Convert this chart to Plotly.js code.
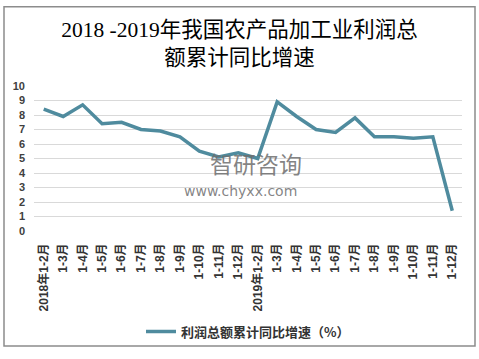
<!DOCTYPE html>
<html>
<head>
<meta charset="utf-8">
<script src="https://cdn.plot.ly/plotly-3.0.1.min.js"></script>
<style>
html,body{margin:0;padding:0;background:#fff;}
#chart{width:479px;height:359px;}
</style>
</head>
<body>
<div id="chart"></div>
<script>
var categories = ["2018年1-2月","1-3月","1-4月","1-5月","1-6月","1-7月","1-8月","1-9月","1-10月","1-11月","1-12月",
                  "2019年1-2月","1-3月","1-4月","1-5月","1-6月","1-7月","1-8月","1-9月","1-10月","1-11月","1-12月"];
var growth = [8.4,7.9,8.7,7.4,7.5,7.0,6.9,6.5,5.5,5.1,5.4,5.0,8.9,7.9,7.0,6.8,7.8,6.5,6.5,6.4,6.5,1.4];
var seriesName = "利润总额累计同比增速（%）";
var yTicks = [0,1,2,3,4,5,6,7,8,9,10];
var titleText = "2018 -2019年我国农产品加工业利润总<br>额累计同比增速";

var xIdx = categories.map(function(c,i){return i;});

var trace = {
  x: xIdx,
  y: growth,
  type: 'scatter',
  mode: 'lines',
  name: seriesName,
  line: {color: '#4f8b9e', width: 3.5},
  hoverinfo: 'skip'
};

var layout = {
  width: 479, height: 359,
  margin: {l: 34, r: 17, t: 86, b: 123},
  paper_bgcolor: '#ffffff',
  plot_bgcolor: '#ffffff',
  showlegend: true,
  title: {
    text: titleText,
    font: {family: 'Liberation Serif, "Noto Sans CJK SC", serif', size: 21.5, color: '#000'},
    x: 0.5, xanchor: 'center', xref: 'container',
    y: 1 - 37/359, yanchor: 'top', yref: 'container'
  },
  xaxis: {
    type: 'linear',
    range: [-0.5, categories.length - 0.5],
    tickmode: 'array',
    tickvals: xIdx,
    ticktext: categories,
    tickangle: -90,
    showgrid: false,
    zeroline: false,
    showline: false,
    ticks: '',
    ticklabelstandoff: 9,
    tickfont: {family: 'Liberation Sans, "Noto Sans CJK SC", sans-serif', size: 12, color: '#333', weight: 'bold'},
    fixedrange: true
  },
  yaxis: {
    range: [0, 10],
    tickmode: 'array',
    tickvals: yTicks,
    showgrid: true,
    gridcolor: '#d9d9d9',
    gridwidth: 1,
    zeroline: false,
    showline: false,
    ticks: '',
    ticklabelstandoff: 8,
    tickfont: {family: 'Liberation Sans, "Noto Sans CJK SC", sans-serif', size: 11, color: '#404040', weight: 'bold'},
    fixedrange: true
  },
  legend: {
    orientation: 'h',
    x: 0.5, xanchor: 'center',
    y: (236-340)/150, yanchor: 'middle',
    font: {family: '"Noto Sans CJK SC", sans-serif', size: 13, color: '#333', weight: 'bold'},
    bgcolor: 'rgba(0,0,0,0)'
  },
  shapes: [{
    type: 'rect', xref: 'paper', yref: 'paper',
    x0: (4-34)/428, x1: (475-34)/428,
    y0: (236-355)/150, y1: (236-4)/150,
    line: {color: '#8c8c8c', width: 1.5},
    fillcolor: 'rgba(0,0,0,0)',
    layer: 'above'
  }],
  annotations: [
    {text: '智研咨询', xref: 'paper', yref: 'paper', x: (256-34)/428, y: (236-166)/150,
     xanchor: 'center', yanchor: 'middle',
     showarrow: false, font: {family: '"Noto Sans CJK SC", sans-serif', size: 23, color: 'rgba(110,110,110,0.85)'}},
    {text: 'www.chyxx.com', xref: 'paper', yref: 'paper', x: (240-34)/428, y: (236-195)/150,
     xanchor: 'center', yanchor: 'middle',
     showarrow: false, font: {family: '"DejaVu Sans", sans-serif', size: 14, color: 'rgba(110,110,110,0.85)'}}
  ]
};

Plotly.newPlot('chart', [trace], layout, {displayModeBar: false, staticPlot: true});
</script>
</body>
</html>
